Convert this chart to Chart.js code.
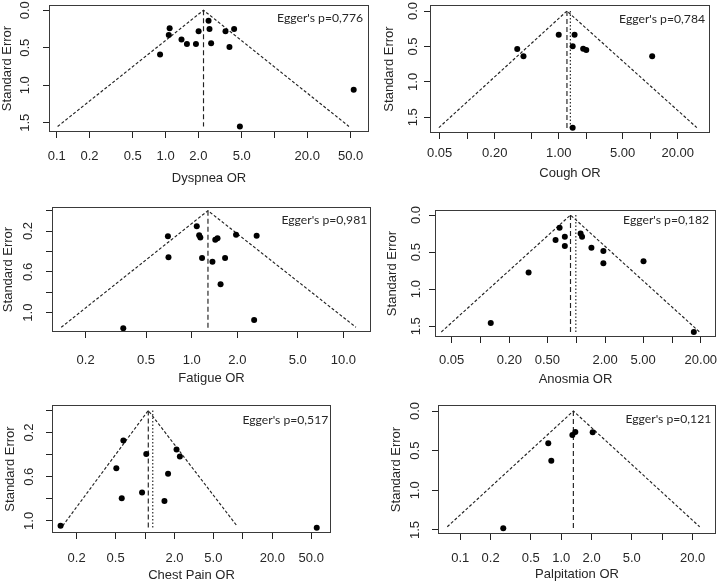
<!DOCTYPE html>
<html>
<head>
<meta charset="utf-8">
<script src="https://cdn.jsdelivr.net/npm/chart.js@4.4.1/dist/chart.umd.min.js"></script>
<style>
  body { margin: 0; background: #fff; width: 720px; height: 583px; position: relative; overflow: hidden; }
  canvas { position: absolute; }
</style>
</head>
<body>
<script>
// ---- data ----
const seTicksHalf = [0, 0.5, 1.0, 1.5];
const seLabelsHalf = ['0.0', '0.5', '1.0', '1.5'];
const seTicksFifth = [0, 0.2, 0.4, 0.6, 0.8, 1.0];
const seLabelsFifth = ['', '0.2', '', '0.6', '', '1.0'];

const dyspneaOR = [0.89, 1.09, 1.07, 1.40, 1.57, 1.90, 2.01, 2.48, 2.53, 2.62, 3.55, 4.26, 3.86, 4.81, 53.4];
const dyspneaSE = [0.59, 0.24, 0.33, 0.39, 0.45, 0.45, 0.28, 0.14, 0.25, 0.44, 0.28, 0.25, 0.49, 1.55, 1.06];
const dyspneaFunnel = [0.102, 2.23, 48.3];   // left end, apex, right end
const dyspneaFunnelSE = 1.55;
const dyspneaTicks = [0.1, 0.2, 0.5, 1, 2, 5, 10, 20, 50];
const dyspneaLabels = ['0.1', '0.2', '0.5', '1.0', '2.0', '5.0', '', '20.0', '50.0'];

const coughOR = [0.352, 0.412, 1.00, 1.49, 1.42, 1.85, 2.00, 10.5, 1.42];
const coughSE = [0.536, 0.639, 0.334, 0.334, 0.498, 0.531, 0.55, 0.639, 1.646];
const coughFunnel = [0.049, 1.23, 32.3];
const coughFunnelSE = 1.645;
const coughAdjusted = 1.34;
const coughTicks = [0.05, 0.1, 0.2, 0.5, 1, 2, 5, 10, 20];
const coughLabels = ['0.05', '', '0.20', '', '1.00', '', '5.00', '', '20.00'];

const fatigueOR = [0.354, 0.697, 0.703, 1.08, 1.12, 1.14, 1.17, 1.37, 1.43, 1.48, 1.55, 1.66, 1.96, 2.68, 2.58];
const fatigueSE = [1.154, 0.252, 0.458, 0.154, 0.242, 0.262, 0.464, 0.50, 0.284, 0.271, 0.722, 0.464, 0.235, 0.245, 1.072];
const fatigueFunnel = [0.138, 1.28, 12.1];
const fatigueFunnelSE = 1.144;
const fatigueTicks = [0.2, 0.5, 1, 2, 5, 10];
const fatigueLabels = ['0.2', '0.5', '1.0', '2.0', '5.0', '10.0'];

const anosmiaOR = [0.128, 0.318, 0.608, 0.670, 0.760, 0.760, 1.11, 1.15, 1.44, 1.92, 1.92, 5.04, 16.9];
const anosmiaSE = [1.455, 0.775, 0.338, 0.171, 0.293, 0.419, 0.248, 0.293, 0.441, 0.486, 0.649, 0.622, 1.577];
const anosmiaFunnel = [0.039, 0.871, 19.4];
const anosmiaFunnelSE = 1.577;
const anosmiaAdjusted = 0.99;
const anosmiaTicks = [0.05, 0.1, 0.2, 0.5, 1, 2, 5, 10, 20];
const anosmiaLabels = ['0.05', '', '0.20', '0.50', '', '2.00', '5.00', '', '20.00'];

const chestOR = [0.137, 0.601, 0.509, 0.578, 0.933, 1.03, 1.72, 1.58, 2.10, 2.27, 56.9];
const chestSE = [1.045, 0.272, 0.523, 0.795, 0.743, 0.393, 0.574, 0.819, 0.353, 0.417, 1.063];
const chestFunnel = [0.144, 1.08, 8.69];
const chestFunnelSE = 1.045;
const chestAdjusted = 1.20;
const chestTicks = [0.2, 0.5, 1, 2, 5, 10, 20, 50];
const chestLabels = ['0.2', '0.5', '', '2.0', '5.0', '', '20.0', '50.0'];

const palpOR = [0.267, 0.745, 0.798, 1.29, 1.38, 2.05];
const palpSE = [1.479, 0.408, 0.626, 0.303, 0.265, 0.269];
const palpFunnel = [0.0745, 1.32, 23.5];
const palpFunnelSE = 1.46;
const palpTicks = [0.1, 0.2, 0.5, 1, 2, 5, 10, 20];
const palpLabels = ['0.1', '0.2', '0.5', '1.0', '2.0', '5.0', '', '20.0'];

// ---- panel layout (pixel positions in the 720x583 page) ----
const panels = [
  { title: 'Dyspnea OR', egger: "Egger's p=0,776", or: dyspneaOR, se: dyspneaSE, funnel: dyspneaFunnel, funnelSE: dyspneaFunnelSE,
    vEnd: 1.55, adj: null, xTicks: dyspneaTicks, xLabels: dyspneaLabels, yTicks: seTicksHalf, yLabels: seLabelsHalf,
    xMin: 0.085, xMax: 73.8, yMin: -0.07, yMax: 1.624,
    box: { l: 49, t: 5, r: 369, b: 132 }, yTitleX: 8.5, yTickX: 25.3, xTickY: 156.7, xTitleY: 177.7, eggerDx: 6, eggerDy: 13.3 },
  { title: 'Cough OR', egger: "Egger's p=0,784", or: coughOR, se: coughSE, funnel: coughFunnel, funnelSE: coughFunnelSE,
    vEnd: 1.65, adj: coughAdjusted, xTicks: coughTicks, xLabels: coughLabels, yTicks: seTicksHalf, yLabels: seLabelsHalf,
    xMin: 0.0392, xMax: 45.0, yMin: -0.085, yMax: 1.721,
    box: { l: 430, t: 5, r: 710, b: 133 }, yTitleX: 390.5, yTickX: 413.3, xTickY: 153.3, xTitleY: 172.7, eggerDx: 5, eggerDy: 14.3 },
  { title: 'Fatigue OR', egger: "Egger's p=0,981", or: fatigueOR, se: fatigueSE, funnel: fatigueFunnel, funnelSE: fatigueFunnelSE,
    vEnd: 1.16, adj: null, xTicks: fatigueTicks, xLabels: fatigueLabels, yTicks: seTicksFifth, yLabels: seLabelsFifth,
    xMin: 0.120, xMax: 15.2, yMin: -0.036, yMax: 1.19,
    box: { l: 52, t: 207, r: 371, b: 332 }, yTitleX: 9, yTickX: 28.3, xTickY: 360, xTitleY: 377.7, eggerDx: 3.7, eggerDy: 13 },
  { title: 'Anosmia OR', egger: "Egger's p=0,182", or: anosmiaOR, se: anosmiaSE, funnel: anosmiaFunnel, funnelSE: anosmiaFunnelSE,
    vEnd: 1.58, adj: anosmiaAdjusted, xTicks: anosmiaTicks, xLabels: anosmiaLabels, yTicks: seTicksHalf, yLabels: seLabelsHalf,
    xMin: 0.0335, xMax: 28.8, yMin: -0.068, yMax: 1.645,
    box: { l: 435, t: 210, r: 717, b: 337 }, yTitleX: 393.7, yTickX: 416.7, xTickY: 360, xTitleY: 378.3, eggerDx: 7, eggerDy: 10 },
  { title: 'Chest Pain OR', egger: "Egger's p=0,517", or: chestOR, se: chestSE, funnel: chestFunnel, funnelSE: chestFunnelSE,
    vEnd: 1.06, adj: chestAdjusted, xTicks: chestTicks, xLabels: chestLabels, yTicks: seTicksFifth, yLabels: seLabelsFifth,
    xMin: 0.112, xMax: 79.6, yMin: -0.05, yMax: 1.11,
    box: { l: 52, t: 405, r: 331, b: 533 }, yTitleX: 11.3, yTickX: 29, xTickY: 558.3, xTitleY: 574.3, eggerDx: 2.7, eggerDy: 15.2 },
  { title: 'Palpitation OR', egger: "Egger's p=0,121", or: palpOR, se: palpSE, funnel: palpFunnel, funnelSE: palpFunnelSE,
    vEnd: 1.49, adj: null, xTicks: palpTicks, xLabels: palpLabels, yTicks: seTicksHalf, yLabels: seLabelsHalf,
    xMin: 0.0603, xMax: 34.1, yMin: -0.076, yMax: 1.551,
    box: { l: 438, t: 405, r: 718, b: 534 }, yTitleX: 397.2, yTickX: 415, xTickY: 558.3, xTitleY: 573.3, eggerDx: 4.7, eggerDy: 14.3 }
];

const AXIS_FONT = '"Liberation Sans", Arial, sans-serif';
const NOTE_FONT = 'Lato, "Open Sans", sans-serif';
const FS = 13;
const TEXT = '#262626';
const LINE = '#222';
const TICK_LEN = 6;

const measureCtx = document.createElement('canvas').getContext('2d');

// box round the plot region plus the Egger note, drawn like R's box() and text()
const boxPlugin = {
  id: 'rbox',
  afterDraw(chart, args, opts) {
    const { ctx, chartArea: a } = chart;
    ctx.save();
    ctx.strokeStyle = '#3a3a3a';
    ctx.lineWidth = 1;
    ctx.strokeRect(a.left + 0.5, a.top + 0.5, a.right - a.left - 1, a.bottom - a.top - 1);
    ctx.font = opts.size + 'px ' + NOTE_FONT;
    ctx.fillStyle = TEXT;
    ctx.textAlign = 'right';
    ctx.textBaseline = 'middle';
    ctx.fillText(opts.text, a.right - opts.dx, a.top + opts.dy);
    ctx.restore();
  }
};

function lineSet(points, dash) {
  return {
    data: points, showLine: true, borderColor: LINE, borderWidth: 1.15, borderDash: dash,
    pointRadius: 0, pointHoverRadius: 0, fill: false
  };
}

function makePanel(p) {
  const lh = FS * 1.2;
  const cLeft = Math.floor(p.yTitleX - lh / 2);
  const cTop = Math.max(0, p.box.t - 8);
  const cRight = Math.min(720, p.box.r + 6);
  const cBottom = Math.min(583, Math.ceil(p.xTitleY + lh / 2));

  const canvas = document.createElement('canvas');
  canvas.width = cRight - cLeft;
  canvas.height = cBottom - cTop;
  canvas.style.left = cLeft + 'px';
  canvas.style.top = cTop + 'px';
  document.body.appendChild(canvas);

  const yW = p.box.l - cLeft;
  const xH = cBottom - p.box.b;
  measureCtx.font = FS + 'px ' + AXIS_FONT;
  const widest = Math.max(...p.yLabels.map(s => measureCtx.measureText(s).width));
  const yPad = p.box.l - p.yTickX - TICK_LEN - widest / 2;
  const xPad = p.xTickY - p.box.b - TICK_LEN - lh / 2;

  // size the Egger note so it spans the same width as in the figure
  measureCtx.font = '100px ' + NOTE_FONT;
  const noteSize = 100 * 86 / measureCtx.measureText(p.egger).width;

  const datasets = [
    {
      data: p.or.map((v, i) => ({ x: v, y: p.se[i] })),
      pointRadius: 3, pointBackgroundColor: '#000', pointBorderWidth: 0, showLine: false
    },
    lineSet([{ x: p.funnel[0], y: p.funnelSE }, { x: p.funnel[1], y: 0 }, { x: p.funnel[2], y: p.funnelSE }], [3, 2]),
    lineSet([{ x: p.funnel[1], y: 0 }, { x: p.funnel[1], y: p.vEnd }], [5, 3])
  ];
  if (p.adj !== null) {
    datasets.push(lineSet([{ x: p.adj, y: 0 }, { x: p.adj, y: p.vEnd }], [1.5, 2]));
  }

  const tickFont = { family: AXIS_FONT, size: FS };

  new Chart(canvas, {
    type: 'scatter',
    data: { datasets },
    options: {
      responsive: false,
      animation: false,
      events: [],
      layout: { padding: { left: 0, top: p.box.t - cTop, right: cRight - p.box.r, bottom: 0 } },
      plugins: {
        legend: { display: false },
        tooltip: { enabled: false },
        rbox: { text: p.egger, size: noteSize, dx: p.eggerDx, dy: p.eggerDy }
      },
      scales: {
        x: {
          type: 'logarithmic', position: 'bottom', min: p.xMin, max: p.xMax,
          afterBuildTicks: s => { s.ticks = p.xTicks.map(v => ({ value: v })); },
          afterFit: s => { s.height = xH; s.paddingLeft = 0; s.paddingRight = 0; },
          ticks: {
            autoSkip: false, minRotation: 0, maxRotation: 0, padding: xPad, color: TEXT, font: tickFont,
            callback: (v, i) => p.xLabels[i]
          },
          grid: { drawOnChartArea: false, drawTicks: true, tickLength: TICK_LEN, color: LINE, lineWidth: 1 },
          border: { display: false },
          title: { display: true, text: p.title, padding: 0, color: TEXT, font: tickFont }
        },
        y: {
          type: 'linear', position: 'left', reverse: true, min: p.yMin, max: p.yMax,
          afterBuildTicks: s => { s.ticks = p.yTicks.map(v => ({ value: v })); },
          afterFit: s => { s.width = yW; s.paddingTop = 0; s.paddingBottom = 0; },
          ticks: {
            autoSkip: false, minRotation: 90, maxRotation: 90, crossAlign: 'center', padding: yPad,
            color: TEXT, font: tickFont, callback: (v, i) => p.yLabels[i]
          },
          grid: { drawOnChartArea: false, drawTicks: true, tickLength: TICK_LEN, color: LINE, lineWidth: 1 },
          border: { display: false },
          title: { display: true, text: 'Standard Error', padding: 0, color: TEXT, font: tickFont }
        }
      }
    },
    plugins: [boxPlugin]
  });
}

panels.forEach(makePanel);
</script>
</body>
</html>
